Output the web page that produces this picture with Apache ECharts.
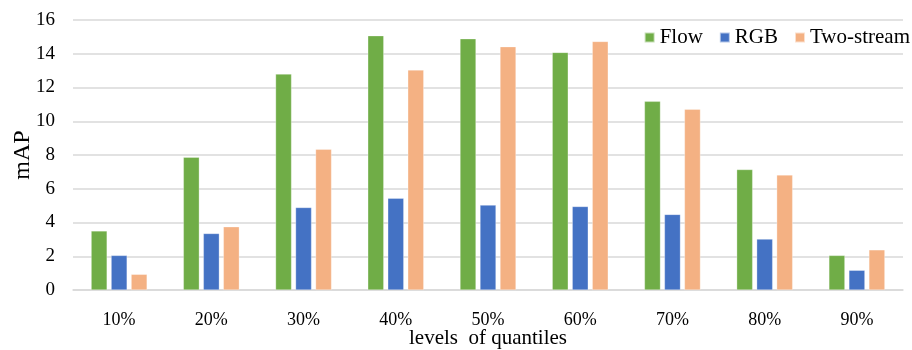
<!DOCTYPE html>
<html><head><meta charset="utf-8">
<script src="https://cdn.jsdelivr.net/npm/echarts@6/dist/echarts.min.js"></script>
<style>html,body{margin:0;padding:0;background:#fff}#c{width:912px;height:350px}</style>
</head><body><div id="c"></div>
<script>
const categories = ['10%','20%','30%','40%','50%','60%','70%','80%','90%'];
const flow = [3.5, 7.87, 12.8, 15.07, 14.89, 14.08, 11.18, 7.14, 2.05];
const rgb = [2.05, 3.35, 4.89, 5.44, 5.03, 4.95, 4.48, 3.02, 1.17];
const twoStream = [0.93, 3.75, 8.34, 13.04, 14.42, 14.73, 10.71, 6.82, 2.38];
const font = 'Liberation Serif';
const chart = echarts.init(document.getElementById('c'));
const mk = (name, data, color) => ({
  name, type: 'bar', data, barWidth: 16, barGap: '25%',
  itemStyle: { color, borderColor: 'rgba(255,255,255,0.6)', borderWidth: 0.5 },
  emphasis: { disabled: true }
});
chart.setOption({
  animation: false,
  textStyle: { fontFamily: font },
  legend: {
    right: 2, top: 27, padding: 0, itemWidth: 10, itemHeight: 10, itemGap: 16,
    icon: 'rect',
    textStyle: { fontFamily: font, fontSize: 21, color: '#000' },
    data: ['Flow', 'RGB', 'Two-stream']
  },
  grid: { left: 73, right: 9, top: 20, bottom: 60, containLabel: false, outerBoundsMode: 'none' },
  xAxis: {
    type: 'category', data: categories,
    axisLine: { lineStyle: { color: '#d9d9d9', width: 1.5 } },
    axisTick: { show: false },
    axisLabel: { fontFamily: font, fontSize: 18, color: '#000', margin: 21 },
    name: 'levels  of quantiles', nameLocation: 'middle', nameGap: 38, nameMoveOverlap: false,
    nameTextStyle: { fontFamily: font, fontSize: 21, color: '#000', verticalAlign: 'top' }
  },
  yAxis: {
    type: 'value', min: 0, max: 16, interval: 2,
    axisLine: { show: false }, axisTick: { show: false },
    splitLine: { lineStyle: { color: '#d9d9d9', width: 1.5 } },
    axisLabel: { fontFamily: font, fontSize: 19, color: '#000', margin: 18 },
    name: 'mAP', nameLocation: 'middle', nameGap: 38, nameRotate: 90, nameMoveOverlap: false,
    nameTextStyle: { fontFamily: font, fontSize: 24, color: '#000' }
  },
  series: [mk('Flow', flow, '#70AD47'), mk('RGB', rgb, '#4472C4'), mk('Two-stream', twoStream, '#F4B183')]
});
</script></body></html>
